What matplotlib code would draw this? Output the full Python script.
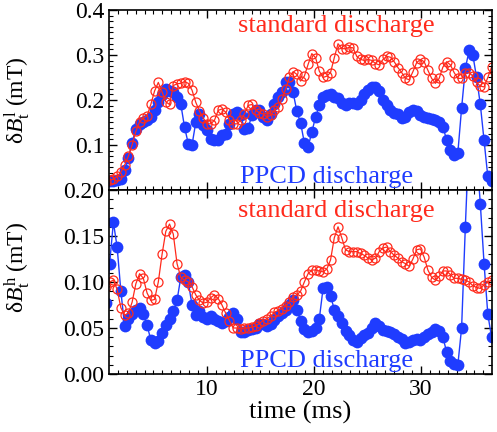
import numpy as np
import matplotlib
matplotlib.use("Agg")
import matplotlib.pyplot as plt
from matplotlib.ticker import MultipleLocator, AutoMinorLocator, FormatStrFormatter

plt.rcParams['font.family'] = 'Liberation Serif'
plt.rcParams['mathtext.fontset'] = 'custom'
plt.rcParams['mathtext.rm'] = 'Liberation Serif'
plt.rcParams['mathtext.it'] = 'Liberation Serif:italic'

RED = '#ff2a1c'
BLUE = '#1f3cff'

# sampling times (ms), ~0.35 ms apart
time = 0.55 + 0.35 * np.arange(104)

# low-frequency toroidal field fluctuation (mT)
std_low = [0.020,
           0.022, 0.024, 0.030, 0.040, 0.055, 0.075, 0.100, 0.130, 0.152, 0.160,
           0.165, 0.190, 0.220, 0.239, 0.218, 0.196, 0.190, 0.232, 0.236, 0.237,
           0.241, 0.237, 0.222, 0.195, 0.175, 0.160, 0.147, 0.147, 0.155, 0.177,
           0.180, 0.173, 0.155, 0.147, 0.147, 0.155, 0.169, 0.188, 0.190, 0.178,
           0.171, 0.169, 0.162, 0.166, 0.177, 0.184, 0.202, 0.224, 0.250, 0.263,
           0.257, 0.242, 0.253, 0.279, 0.303, 0.294, 0.264, 0.250, 0.253, 0.261,
           0.294, 0.325, 0.314, 0.314, 0.317, 0.316, 0.297, 0.290, 0.288, 0.290,
           0.288, 0.281, 0.278, 0.290, 0.297, 0.295, 0.285, 0.272, 0.261, 0.248,
           0.245, 0.263, 0.283, 0.290, 0.285, 0.266, 0.248, 0.237, 0.248, 0.273,
           0.285, 0.278, 0.261, 0.248, 0.248, 0.259, 0.261, 0.253, 0.239, 0.231,
           0.229, 0.250, 0.273]
ppcd_low = [0.020,
            0.021, 0.021, 0.022, 0.024, 0.045, 0.070, 0.105, 0.136, 0.147, 0.151,
            0.155, 0.162, 0.177, 0.195, 0.210, 0.224, 0.220, 0.217, 0.206, 0.191,
            0.140, 0.103, 0.100, 0.150, 0.169, 0.144, 0.133, 0.114, 0.110, 0.110,
            0.122, 0.125, 0.147, 0.169, 0.173, 0.166, 0.136, 0.138, 0.166, 0.177,
            0.178, 0.162, 0.155, 0.169, 0.190, 0.206, 0.217, 0.241, 0.239, 0.217,
            0.175, 0.149, 0.105, 0.095, 0.129, 0.162, 0.188, 0.206, 0.212, 0.213,
            0.207, 0.204, 0.193, 0.188, 0.193, 0.194, 0.191, 0.199, 0.213, 0.222,
            0.229, 0.229, 0.219, 0.199, 0.188, 0.178, 0.171, 0.168, 0.160, 0.163,
            0.173, 0.178, 0.175, 0.166, 0.162, 0.160, 0.158, 0.155, 0.151, 0.141,
            0.111, 0.089, 0.078, 0.083, 0.182, 0.270, 0.310, 0.300, 0.250, 0.190,
            0.110, 0.030, 0.020]

# high-frequency toroidal field fluctuation (mT)
std_high = [0.095, 0.100, 0.102, 0.092, 0.072, 0.064, 0.066, 0.078, 0.098, 0.109,
            0.104, 0.088, 0.080, 0.081, 0.100, 0.130, 0.155, 0.163, 0.152, 0.120,
            0.105, 0.102, 0.100, 0.095, 0.086, 0.080, 0.077, 0.078, 0.083, 0.086,
            0.082, 0.075, 0.066, 0.058, 0.050, 0.050, 0.049, 0.050, 0.050, 0.051,
            0.052, 0.055, 0.058, 0.060, 0.063, 0.067, 0.069, 0.071, 0.074, 0.078,
            0.084, 0.086, 0.090, 0.100, 0.109, 0.113, 0.113, 0.112, 0.111, 0.114,
            0.124, 0.148, 0.160, 0.148, 0.135, 0.133, 0.133, 0.133, 0.131, 0.129,
            0.126, 0.124, 0.126, 0.133, 0.137, 0.138, 0.133, 0.129, 0.126, 0.122,
            0.120, 0.117, 0.125, 0.135, 0.136, 0.127, 0.113, 0.105, 0.102, 0.106,
            0.112, 0.112, 0.108, 0.104, 0.104, 0.103, 0.102, 0.100, 0.096, 0.094,
            0.093, 0.097, 0.100, 0.102]
ppcd_high = [0.077, 0.120, 0.165, 0.138, 0.090, 0.052, 0.060, 0.065, 0.070, 0.072,
             0.065, 0.053, 0.037, 0.034, 0.036, 0.045, 0.053, 0.060, 0.068, 0.080,
             0.105, 0.108, 0.100, 0.075, 0.064, 0.068, 0.062, 0.060, 0.063, 0.060,
             0.058, 0.055, 0.058, 0.062, 0.066, 0.060, 0.046, 0.046, 0.048, 0.049,
             0.050, 0.054, 0.054, 0.052, 0.054, 0.059, 0.063, 0.066, 0.070, 0.075,
             0.080, 0.070, 0.058, 0.049, 0.046, 0.047, 0.050, 0.060, 0.093, 0.095,
             0.085, 0.070, 0.063, 0.055, 0.047, 0.042, 0.037, 0.035, 0.039, 0.042,
             0.045, 0.050, 0.055, 0.052, 0.048, 0.047, 0.046, 0.044, 0.040, 0.038,
             0.034, 0.035, 0.037, 0.038, 0.037, 0.040, 0.043, 0.046, 0.049, 0.047,
             0.040, 0.024, 0.014, 0.011, 0.010, 0.050, 0.160, 0.260, 0.260, 0.240,
             0.185, 0.120, 0.065, 0.040]

fig = plt.figure(figsize=(4.97, 4.32), dpi=100)
ax1 = fig.add_axes([0.2193, 0.5602, 0.7706, 0.4167])
ax2 = fig.add_axes([0.2193, 0.1343, 0.7706, 0.4259], sharex=ax1)


def draw(ax, blue, red):
    ax.plot(time, blue, '-o', color=BLUE, lw=1.0, ms=8.5, mec=BLUE, mfc=BLUE, mew=0)
    ax.plot(time, red, '-o', color=RED, lw=0.9, ms=6.5, mec=RED, mfc='none', mew=0.9)
    ax.tick_params(which='both', direction='in', top=True, right=True, labelsize=17)
    ax.tick_params(which='major', length=6, width=1)
    ax.tick_params(which='minor', length=3, width=0.8)
    for s in ax.spines.values():
        s.set_linewidth(1.2)


draw(ax1, ppcd_low, std_low)
draw(ax2, ppcd_high, std_high)

ax1.set_xlim(0.84, 36.64)
ax1.xaxis.set_major_locator(MultipleLocator(10))
ax1.xaxis.set_minor_locator(MultipleLocator(10 / 12))
ax1.tick_params(labelbottom=False)

ax1.set_ylim(0, 0.4)
ax1.set_yticks([0.1, 0.2, 0.3, 0.4])
ax1.yaxis.set_major_formatter(FormatStrFormatter('%.1f'))
ax1.yaxis.set_minor_locator(MultipleLocator(0.0125))

ax2.set_ylim(0, 0.2)
ax2.set_yticks([0.0, 0.05, 0.10, 0.15, 0.20])
ax2.yaxis.set_major_formatter(FormatStrFormatter('%.2f'))
ax2.yaxis.set_minor_locator(AutoMinorLocator(5))

ax1.set_ylabel('δ$B^{\\rm l}_{\\rm t}$ (mT)', fontsize=17)
ax1.yaxis.set_label_coords(-0.2, 0.5)
ax2.set_ylabel('δ$B^{\\rm h}_{\\rm t}$ (mT)', fontsize=17)
ax2.yaxis.set_label_coords(-0.2, 0.58)
ax2.set_xlabel('time (ms)', fontsize=19, labelpad=1)

ax1.text(0.337, 0.878, 'standard discharge', color=RED, fontsize=19,
         transform=ax1.transAxes, va='baseline')
ax1.text(0.342, 0.039, 'PPCD discharge', color=BLUE, fontsize=19,
         transform=ax1.transAxes, va='baseline')
ax2.text(0.337, 0.853, 'standard discharge', color=RED, fontsize=19,
         transform=ax2.transAxes, va='baseline')
ax2.text(0.342, 0.038, 'PPCD discharge', color=BLUE, fontsize=19,
         transform=ax2.transAxes, va='baseline')

fig.savefig('out.png', dpi=100)
